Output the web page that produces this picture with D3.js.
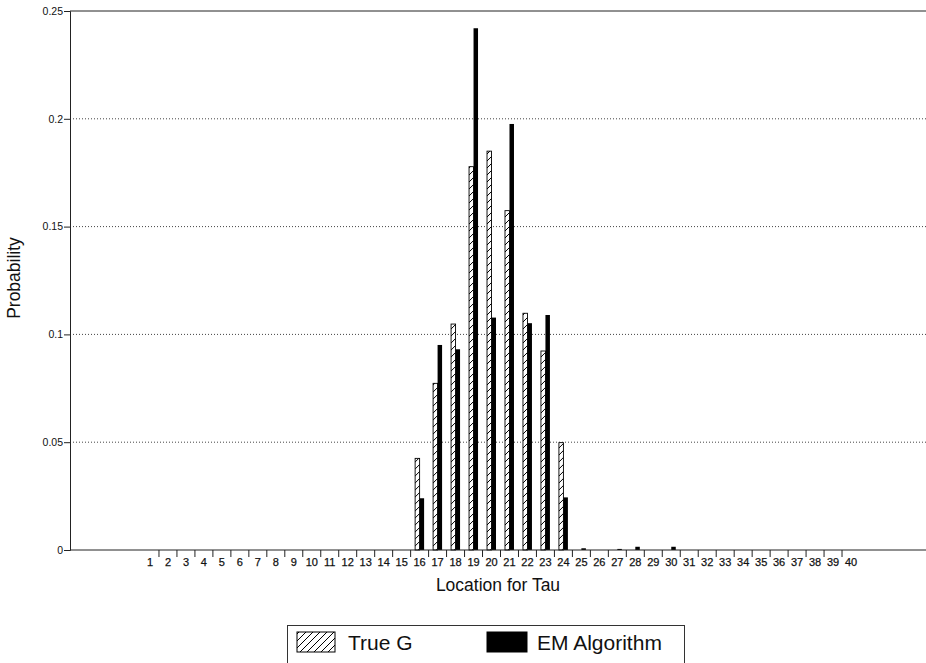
<!DOCTYPE html>
<html>
<head>
<meta charset="utf-8">
<script src="https://cdn.jsdelivr.net/npm/d3@7"></script>
<style>
  body { margin: 0; background: #fff; }
  text { font-family: "Liberation Sans", Arial, sans-serif; fill: #111; }
</style>
</head>
<body>
<script>
// Data

var categories = d3.range(1, 41).map(String);
var seriesNames = ["True G", "EM Algorithm"];

// probabilities for locations 16..30, everything else is zero
var trueG = [0,0,0,0,0,0,0,0,0,0,0,0,0,0,0,
  0.0425, 0.0773, 0.1048, 0.1778, 0.185, 0.1574, 0.1098, 0.0923, 0.0498,
  0,0,0,0,0,0,0,0,0,0,0,0,0,0,0,0];
var emAlgorithm = [0,0,0,0,0,0,0,0,0,0,0,0,0,0,0,
  0.024, 0.0951, 0.0931, 0.242, 0.1078, 0.1976, 0.1052, 0.109, 0.0244,
  0.0008, 0, 0.0005, 0.0015, 0, 0.0015,
  0,0,0,0,0,0,0,0,0,0];
var yTicks = [0, 0.05, 0.1, 0.15, 0.2, 0.25];

// 1. Size and plot frame

var width = 926, height = 663;
var plot = {left: 70, right: 926, top: 11, bottom: 550};

var svg = d3.select("body").append("svg")
    .attr("width", width)
    .attr("height", height);

// hatch for True G
var defs = svg.append("defs");
var pat = defs.append("pattern")
    .attr("id", "hatch")
    .attr("patternUnits", "userSpaceOnUse")
    .attr("width", 7)
    .attr("height", 7);
pat.append("rect").attr("width", 7).attr("height", 7).attr("fill", "#fff");
pat.append("path")
    .attr("d", "M-1,8 L8,-1 M-2,2 L2,-2 M5,9 L9,5")
    .attr("stroke", "#000")
    .attr("stroke-width", 1);

// 2. Scales

var x = d3.scaleBand()
    .domain(categories)
    .range([141, 860])
    .paddingInner(0.5)
    .paddingOuter(0.25);

var xSub = d3.scaleBand()
    .domain(seriesNames)
    .range([0, x.bandwidth()]);

var y = d3.scaleLinear()
    .domain([0, 0.25])
    .range([plot.bottom, plot.top]);

// 3. Grid lines (dotted)

svg.append("g")
    .selectAll("line")
    .data(yTicks.slice(1, -1))
    .enter().append("line")
    .attr("x1", plot.left)
    .attr("x2", plot.right)
    .attr("y1", function(d) { return y(d); })
    .attr("y2", function(d) { return y(d); })
    .attr("stroke", "#444")
    .attr("stroke-width", 1)
    .attr("stroke-dasharray", "1,2");

// top frame line
svg.append("line")
    .attr("x1", plot.left).attr("x2", plot.right)
    .attr("y1", y(0.25)).attr("y2", y(0.25))
    .attr("stroke", "#222");

// 4. Bars

var rows = categories.map(function(c, i) {
  return {cat: c, values: [
    {name: "True G", value: trueG[i]},
    {name: "EM Algorithm", value: emAlgorithm[i]}
  ]};
});

var groups = svg.append("g")
    .selectAll("g")
    .data(rows)
    .enter().append("g")
    .attr("transform", function(d) { return "translate(" + x(d.cat) + ",0)"; });

groups.selectAll("rect")
    .data(function(d) { return d.values.filter(function(v) { return v.value > 0; }); })
    .enter().append("rect")
    .attr("x", function(d) { return xSub(d.name); })
    .attr("y", function(d) { return y(d.value); })
    .attr("width", xSub.bandwidth())
    .attr("height", function(d) { return y(0) - y(d.value); })
    .attr("fill", function(d) { return d.name === "True G" ? "url(#hatch)" : "#000"; })
    .attr("stroke", "#000")
    .attr("stroke-width", function(d) { return d.name === "True G" ? 0.9 : 0; });

// 5. Y axis

var yAxis = svg.append("g")
    .attr("transform", "translate(" + plot.left + ",0)")
    .call(d3.axisLeft(y).tickValues(yTicks).tickSize(6).tickFormat(function(d) { return String(d); }));
yAxis.select(".domain").attr("stroke", "#222");
yAxis.selectAll(".tick line").attr("stroke", "#222");
yAxis.selectAll(".tick text")
    .attr("x", -7)
    .style("font-size", "10.5px")
    .style("font-family", "'Liberation Sans', Arial, sans-serif");

// 6. X axis

var xAxis = svg.append("g")
    .attr("transform", "translate(0," + plot.bottom + ")")
    .call(d3.axisBottom(x).tickSize(0).tickPadding(8));
xAxis.select(".domain").remove();
xAxis.selectAll(".tick text")
    .style("font-size", "11px")
    .style("font-family", "'Liberation Sans', Arial, sans-serif")
    .style("stroke", "#111")
    .style("stroke-width", "0.25px");

svg.append("line")
    .attr("x1", plot.left).attr("x2", plot.right)
    .attr("y1", plot.bottom).attr("y2", plot.bottom)
    .attr("stroke", "#222");

// tick marks between categories
svg.append("g")
    .selectAll("line")
    .data(categories.slice(0, -1))
    .enter().append("line")
    .attr("x1", function(d) { return x(d) + x.bandwidth() / 2 + x.step() / 2; })
    .attr("x2", function(d) { return x(d) + x.bandwidth() / 2 + x.step() / 2; })
    .attr("y1", plot.bottom)
    .attr("y2", plot.bottom + 7)
    .attr("stroke", "#222");

// 7. Axis titles

svg.append("text")
    .attr("x", (plot.left + plot.right) / 2)
    .attr("y", 591)
    .attr("text-anchor", "middle")
    .style("font-size", "17.5px")
    .text("Location for Tau");

svg.append("text")
    .attr("transform", "translate(20,278) rotate(-90)")
    .attr("text-anchor", "middle")
    .style("font-size", "17.5px")
    .text("Probability");

// 8. Legend

var legend = svg.append("g");
legend.append("rect")
    .attr("x", 287.5).attr("y", 625.5)
    .attr("width", 397).attr("height", 50)
    .attr("fill", "none")
    .attr("stroke", "#333");

legend.selectAll(".swatch")
    .data(seriesNames)
    .enter().append("rect")
    .attr("class", "swatch")
    .attr("x", function(d, i) { return i === 0 ? 297 : 487; })
    .attr("y", 632)
    .attr("width", function(d, i) { return i === 0 ? 38 : 40; })
    .attr("height", 20)
    .attr("fill", function(d, i) { return i === 0 ? "url(#hatch)" : "#000"; })
    .attr("stroke", "#000");

legend.selectAll(".label")
    .data(seriesNames)
    .enter().append("text")
    .attr("class", "label")
    .attr("x", function(d, i) { return i === 0 ? 348 : 537; })
    .attr("y", 650)
    .style("font-size", "21px")
    .text(function(d) { return d; });
</script>
</body>
</html>
